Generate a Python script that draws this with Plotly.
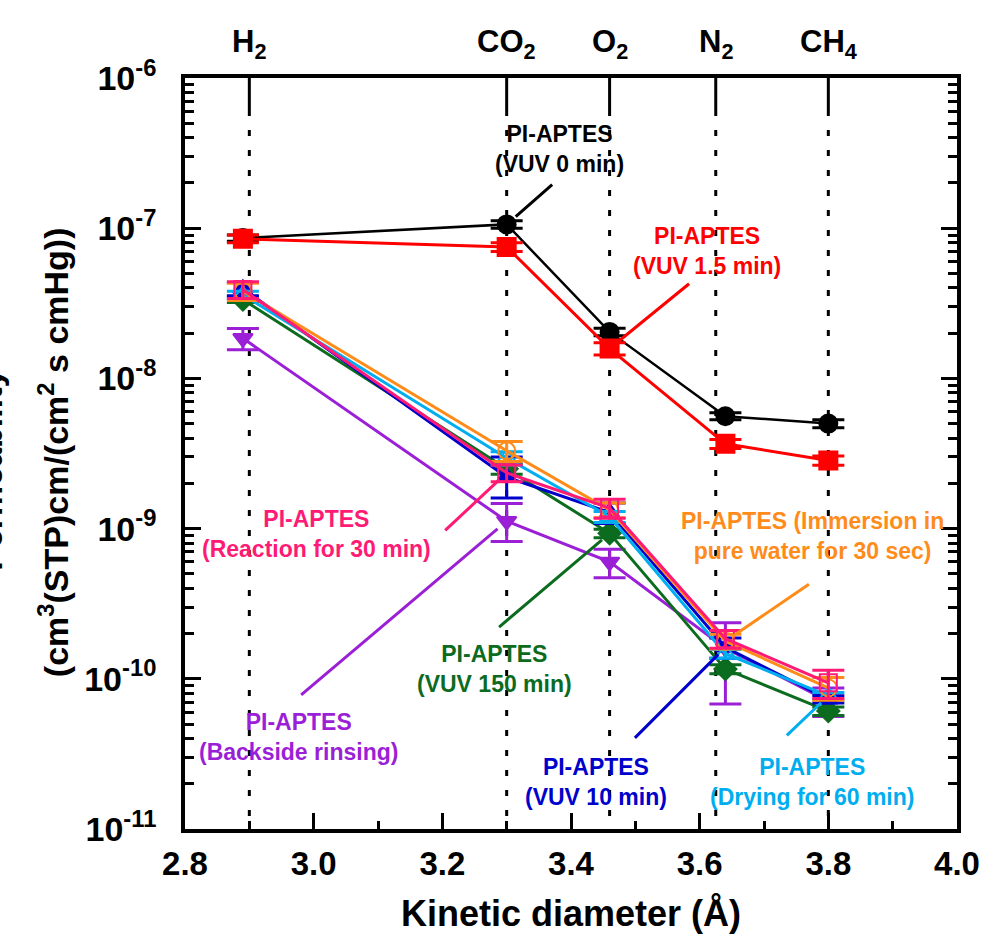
import math
import plotly.graph_objects as go

# ---------------- data ----------------
gases = ["H<sub>2</sub>", "CO<sub>2</sub>", "O<sub>2</sub>", "N<sub>2</sub>", "CH<sub>4</sub>"]
kinetic_d = [2.89, 3.30, 3.46, 3.64, 3.80]          # marker positions
guide_d = [2.90, 3.30, 3.46, 3.625, 3.80]           # dotted guide lines / top labels

vuv0 = [8.6e-8, 1.06e-7, 2.04e-8, 5.6e-9, 5.0e-9]
vuv0_err = [4e-9, 6e-9, 1.2e-9, 3e-10, 3e-10]
vuv15 = [8.5e-8, 7.5e-8, 1.58e-8, 3.67e-9, 2.84e-9]
vuv15_err = [5e-9, 5e-9, 1.5e-9, 2.5e-10, 2e-10]
reaction30 = [3.9e-8, 2.35e-9, 1.37e-9, 1.85e-10, 9.4e-11]
reaction30_err = [5e-9, 3e-10, 2e-10, 2.5e-11, 2e-11]
immersion = [3.8e-8, 3.3e-9, 1.33e-9, 1.78e-10, 8.7e-11]
immersion_err = [5e-9, 5e-10, 1.5e-10, 2e-11, 1.5e-11]
vuv10 = [3.95e-8, 2.2e-9, 1.28e-9, 1.62e-10, 7.3e-11]
vuv10_errp = [4e-9, 8e-10, 2e-10, 2.5e-11, 4e-12]
vuv10_errm = [4e-9, 6e-10, 2e-10, 2.5e-11, 4e-12]
drying = [3.6e-8, 2.95e-9, 1.2e-9, 1.47e-10, 7.7e-11]
drying_err = [2e-9, 3e-10, 1e-10, 1e-11, 4e-12]
vuv150 = [3.35e-8, 2.5e-9, 9.3e-10, 1.16e-10, 6.1e-11]
vuv150_err = [1.5e-9, 2e-10, 6e-11, 8e-12, 4e-12]
backside = [1.85e-8, 1.12e-9, 6.0e-10, 1.6e-10, 7.1e-11]
backside_errp = [3e-9, 3.5e-10, 1.3e-10, 7.6e-11, 1.6e-11]
backside_errm = [3e-9, 3e-10, 1.3e-10, 9.2e-11, 1.5e-11]

x_ticks = [2.8, 3.0, 3.2, 3.4, 3.6, 3.8, 4.0]
x_ticktext = ["2.8", "3.0", "3.2", "3.4", "3.6", "3.8", "4.0"]
y_ticks = [1e-11, 1e-10, 1e-9, 1e-8, 1e-7, 1e-6]
y_ticktext = ["10<sup>-11</sup>", "10<sup>-10</sup>", "10<sup>-9</sup>",
              "10<sup>-8</sup>", "10<sup>-7</sup>", "10<sup>-6</sup>"]

C_BLACK = "#000000"
C_RED = "#FF0000"
C_PINK = "#FF1A75"
C_ORANGE = "#FF8C1A"
C_BLUE = "#0000CC"
C_CYAN = "#00AEEF"
C_GREEN = "#0B6B1E"
C_PURPLE = "#9B1FD6"

FONT = "Liberation Sans"

# plot area in pixels (for text placement)
L, R, T, B = 185, 964, 78, 829
W, H = 992, 943


def px(xp):
    return (xp - L) / (R - L)


def py(yp):
    return (B - yp) / (B - T)


fig = go.Figure()


def add_series(y, ep, em, color, symbol, name, lw=3, msize=17):
    fig.add_trace(go.Scatter(
        x=kinetic_d, y=y, mode="lines+markers", name=name,
        line=dict(color=color, width=lw),
        marker=dict(symbol=symbol, size=msize, color=color,
                    line=dict(color=color, width=2)),
        error_y=dict(type="data", array=ep, arrayminus=em, symmetric=False,
                     color=color, thickness=3, width=16),
        showlegend=False,
    ))


add_series(backside, backside_errp, backside_errm, C_PURPLE, "triangle-down", "Backside rinsing")
add_series(vuv150, vuv150_err, vuv150_err, C_GREEN, "diamond", "VUV 150 min")
add_series(vuv10, vuv10_errp, vuv10_errm, C_BLUE, "triangle-up", "VUV 10 min")
add_series(drying, drying_err, drying_err, C_CYAN, "triangle-up-open", "Drying for 60 min")
add_series(immersion, immersion_err, immersion_err, C_ORANGE, "circle-open", "Immersion")
add_series(reaction30, reaction30_err, reaction30_err, C_PINK, "square-open", "Reaction for 30 min")
add_series(vuv0, vuv0_err, vuv0_err, C_BLACK, "circle", "VUV 0 min", lw=2.5, msize=18)
add_series(vuv15, vuv15_err, vuv15_err, C_RED, "square", "VUV 1.5 min", msize=18)

# dotted guide lines and top inward ticks at gas positions
shapes = []
for g in guide_d:
    shapes.append(dict(type="line", xref="x", yref="paper", x0=g, x1=g,
                       y0=1, y1=1 - 32 / (B - T), line=dict(color="black", width=3),
                       layer="below"))
    shapes.append(dict(type="line", xref="x", yref="paper", x0=g, x1=g,
                       y0=1 - 32 / (B - T), y1=0,
                       line=dict(color="black", width=3, dash="6px,14px"),
                       layer="below"))

annotations = []

# leader lines pointing at data points (tail offset in pixels, gap at the marker)
leaders = [
    (1, vuv0, C_BLACK, 47, -41, 12),
    (2, vuv15, C_RED, 81, -66, 10),
    (1, reaction30, C_PINK, -63, 59, 10),
    (3, immersion, C_ORANGE, 85, -58, 8),
    (2, vuv150, C_GREEN, -112, 95, 10),
    (1, backside, C_PURPLE, -207, 175, 12),
    (3, vuv10, C_BLUE, -92, 92, 10),
    (4, drying, C_CYAN, -43, 41, 10),
]
for i, ser, c, ax, ay, so in leaders:
    annotations.append(dict(x=kinetic_d[i], xref="x", y=math.log10(ser[i]), yref="y",
                            text="", showarrow=True, arrowhead=0, arrowwidth=3,
                            arrowcolor=c, ax=ax, ay=ay, standoff=so, startstandoff=0))

# top gas labels
for g, lab in zip(guide_d, gases):
    annotations.append(dict(x=g, xref="x", y=py(44), yref="paper", text=lab,
                            showarrow=False, xanchor="center", yanchor="middle",
                            font=dict(family=FONT, size=31, color="black", weight=700)))

# series labels
labels = [
    ("PI-APTES<br>(VUV 0 min)", 563, 149, C_BLACK),
    ("PI-APTES<br>(VUV 1.5 min)", 712, 251, C_RED),
    ("PI-APTES<br>(Reaction for 30 min)", 318, 534, C_PINK),
    ("PI-APTES (Immersion in<br>pure water for 30 sec)", 818, 536, C_ORANGE),
    ("PI-APTES<br>(VUV 150 min)", 497, 669, C_GREEN),
    ("PI-APTES<br>(Backside rinsing)", 300, 737, C_PURPLE),
    ("PI-APTES<br>(VUV 10 min)", 600, 782, C_BLUE),
    ("PI-APTES<br>(Drying for 60 min)", 818, 782, C_CYAN),
]
for txt, xp, yp, c in labels:
    annotations.append(dict(x=px(xp), xref="paper", y=py(yp), yref="paper", text=txt,
                            showarrow=False, xanchor="center", yanchor="middle",
                            align="center",
                            font=dict(family=FONT, size=23, color=c, weight=700)))

# y-axis titles (first line cut off at the page edge, as in the source figure)
annotations.append(dict(x=-(L - 52) / (R - L), xref="paper", y=py(452), yref="paper",
                        text="(cm<sup>3</sup>(STP)cm/(cm<sup>2</sup> s cmHg))",
                        textangle=-90, showarrow=False, xanchor="center", yanchor="middle",
                        font=dict(family=FONT, size=34, color="black", weight=700)))
annotations.append(dict(x=-(L + 12) / (R - L), xref="paper", y=py(470), yref="paper",
                        text="Permeability",
                        textangle=-90, showarrow=False, xanchor="center", yanchor="middle",
                        font=dict(family=FONT, size=34, color="black", weight=700)))

minor_y = [k * 10.0 ** n for n in range(-11, -6) for k in range(2, 10)]

fig.update_layout(
    width=W, height=H,
    margin=dict(l=L, r=W - R, t=T, b=H - B, pad=0),
    plot_bgcolor="white", paper_bgcolor="white",
    font=dict(family=FONT, color="black"),
    shapes=shapes, annotations=annotations,
    xaxis=dict(range=[2.8, 4.0], tickmode="array", tickvals=x_ticks, ticktext=x_ticktext,
               ticks="inside", ticklen=16, tickwidth=3, tickcolor="black",
               showline=True, linewidth=3.5, linecolor="black", mirror=True,
               showgrid=False, zeroline=False,
               tickfont=dict(family=FONT, size=33, color="black", weight=700),
               ticklabelstandoff=3,
               minor=dict(ticks="inside", ticklen=8, tickwidth=3, tickcolor="black",
                          dtick=0.1, tick0=2.8, showgrid=False),
               title=dict(text="Kinetic diameter (Å)", standoff=20,
                          font=dict(family=FONT, size=36, color="black", weight=700))),
    yaxis=dict(type="log", range=[-11, -6], tickmode="array", tickvals=y_ticks,
               ticktext=y_ticktext,
               ticks="inside", ticklen=16, tickwidth=3, tickcolor="black",
               showline=True, linewidth=3.5, linecolor="black", mirror="ticks",
               showgrid=False, zeroline=False,
               tickfont=dict(family=FONT, size=34, color="black", weight=700),
               ticklabelstandoff=18,
               minor=dict(ticks="inside", ticklen=9, tickwidth=3, tickcolor="black",
                          tickmode="array", tickvals=minor_y, showgrid=False)),
)

fig.write_html("out.html")
